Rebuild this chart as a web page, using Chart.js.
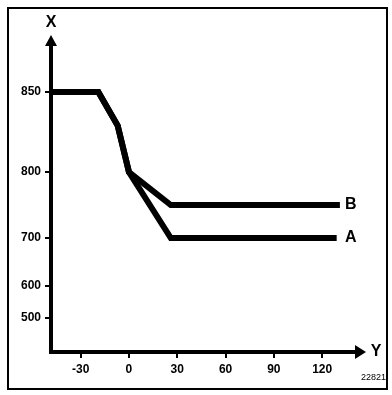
<!DOCTYPE html>
<html>
<head>
<meta charset="utf-8">
<script src="https://cdn.jsdelivr.net/npm/chart.js@4"></script>
<style>
  body { margin: 0; background: #fff; }
  #wrap { width: 392px; height: 395px; }
</style>
</head>
<body>
<div id="wrap"><canvas id="chart" width="392" height="395"></canvas></div>
<script>
const xTicks = [-30, 0, 30, 60, 90, 120];
const yTicks = [500, 600, 700, 800, 850];
const seriesAx = [-48, -19, -7, 0, 26, 129];
const seriesAy = [850, 850, 829, 800, 700, 700];
const seriesBx = [-48, -19, -7, 0, 26, 131];
const seriesBy = [850, 850, 829, 800, 750, 750];
const codeRef = '22821';

// El eje vertical no está a escala: posición de cada marca en unidades del eje
const yLevels = [34, 66, 114, 180, 260];

function warp(v) {// valor -> unidad del eje (interpolación por tramos)
    for (let i = 0; i < yTicks.length - 1; i++) {
        if (v <= yTicks[i + 1]) {
            const t = (v - yTicks[i]) / (yTicks[i + 1] - yTicks[i]);
            return yLevels[i] + t * (yLevels[i + 1] - yLevels[i]);
        }
    }
    const n = yTicks.length - 1;
    return yLevels[n] + (v - yTicks[n]) * (yLevels[n] - yLevels[n - 1]) / (yTicks[n] - yTicks[n - 1]);
}

function toPoints(xs, ys) {
    return xs.map((x, i) => ({ x: x, y: warp(ys[i]) }));
}

const tickFont = { family: 'Liberation Sans', size: 12, weight: 'bold' };

// Dibujos extra: marco, flechas y rótulos
const decor = {
    id: 'decor',
    afterDraw(chart) {
        const ctx = chart.ctx;
        const a = chart.chartArea;
        ctx.save();
        ctx.strokeStyle = '#000';
        ctx.fillStyle = '#000';
        ctx.lineWidth = 2;
        ctx.strokeRect(8, 8, 379, 381);

        // flecha eje vertical
        ctx.beginPath();
        ctx.moveTo(a.left, a.top - 10);
        ctx.lineTo(a.left - 6, a.top + 1);
        ctx.lineTo(a.left + 6, a.top + 1);
        ctx.closePath();
        ctx.fill();
        // flecha eje horizontal
        ctx.beginPath();
        ctx.moveTo(a.right + 10, a.bottom);
        ctx.lineTo(a.right - 1, a.bottom - 7);
        ctx.lineTo(a.right - 1, a.bottom + 7);
        ctx.closePath();
        ctx.fill();

        ctx.font = 'bold 16px "Liberation Sans"';
        ctx.textAlign = 'center';
        ctx.textBaseline = 'middle';
        ctx.fillText('X', a.left, 23);
        ctx.fillText('Y', 376, a.bottom);

        const ys = chart.scales.y;
        ctx.textAlign = 'left';
        ctx.fillText('A', 345, ys.getPixelForValue(warp(seriesAy[seriesAy.length - 1])));
        ctx.fillText('B', 345, ys.getPixelForValue(warp(seriesBy[seriesBy.length - 1])));

        ctx.font = '9px "Liberation Sans"';
        ctx.textAlign = 'right';
        ctx.fillText(codeRef, 386, 378);
        ctx.restore();
    }
};

new Chart(document.getElementById('chart'), {
    type: 'scatter',
    data: {
        datasets: [{
            label: 'A',
            data: toPoints(seriesAx, seriesAy),
            showLine: true,
            borderColor: '#000',
            borderWidth: 6,
            borderJoinStyle: 'miter',
            pointRadius: 0
        }, {
            label: 'B',
            data: toPoints(seriesBx, seriesBy),
            showLine: true,
            borderColor: '#000',
            borderWidth: 6,
            borderJoinStyle: 'miter',
            pointRadius: 0
        }]
    },
    options: {
        responsive: false,
        animation: false,
        layout: { padding: { left: 0, top: 45, right: 36, bottom: 0 } },
        plugins: { legend: { display: false }, tooltip: { enabled: false } },
        scales: {
            x: {
                type: 'linear',
                min: -48.4,
                max: 141,
                afterBuildTicks: s => { s.ticks = xTicks.map(v => ({ value: v })); },
                afterFit: s => { s.height = 43; },
                grid: { drawOnChartArea: false, drawTicks: true, tickLength: 6, color: '#000', lineWidth: 2 },
                border: { display: true, color: '#000', width: 4 },
                ticks: { color: '#000', font: tickFont, padding: 4, maxRotation: 0 }
            },
            y: {
                type: 'linear',
                min: 0,
                max: 307,
                afterBuildTicks: s => { s.ticks = yLevels.map(v => ({ value: v })); },
                afterFit: s => { s.width = 51; },
                grid: { drawOnChartArea: false, drawTicks: true, tickLength: 6, color: '#000', lineWidth: 2 },
                border: { display: true, color: '#000', width: 4 },
                ticks: {
                    color: '#000', font: tickFont, padding: 4,
                    callback: (v, i) => String(yTicks[i])
                }
            }
        }
    },
    plugins: [decor]
});
</script>
</body>
</html>
